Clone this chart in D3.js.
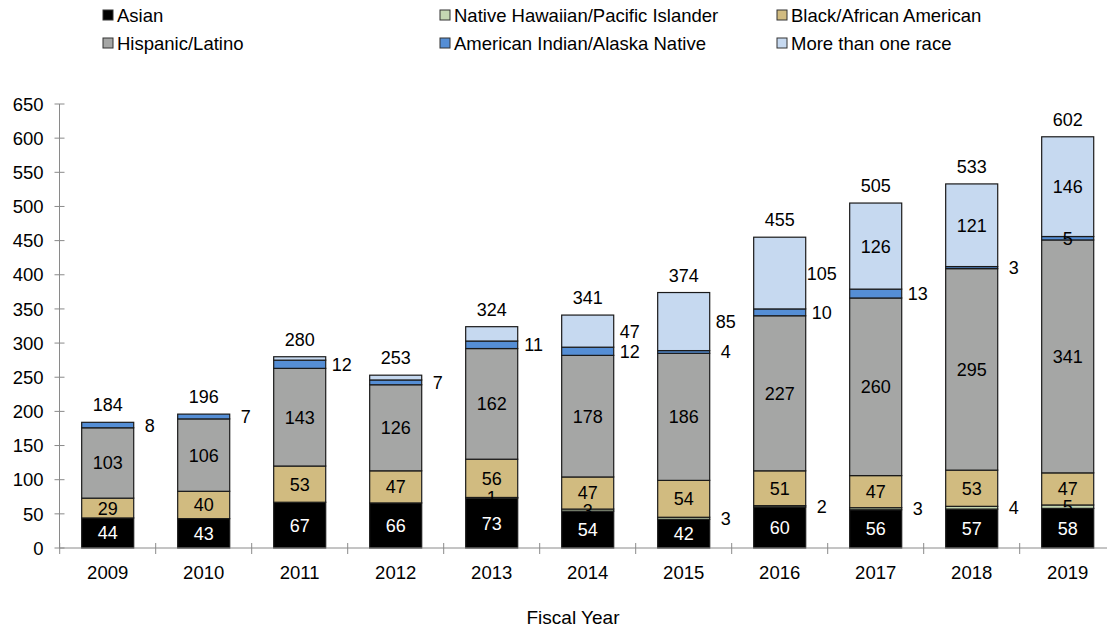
<!DOCTYPE html>
<html><head><meta charset="utf-8">
<script src="https://cdn.jsdelivr.net/npm/d3@7"></script>
<style>body{margin:0;background:#fff} svg{display:block;font-family:"Liberation Sans",Arial,sans-serif}</style>
</head><body><svg id="c" width="1107" height="631"></svg>
<script>
// ---- data ----
const years = ["2009","2010","2011","2012","2013","2014","2015","2016","2017","2018","2019"];
const seriesNames = ["Asian","Native Hawaiian/Pacific Islander","Black/African American","Hispanic/Latino","American Indian/Alaska Native","More than one race"];
const asian          = [44,43,67,66,73,54,42,60,56,57,58];
const nativeHawaiian = [0,0,0,0,1,3,3,2,3,4,5];
const black          = [29,40,53,47,56,47,54,51,47,53,47];
const hispanic       = [103,106,143,126,162,178,186,227,260,295,341];
const americanIndian = [8,7,12,7,11,12,4,10,13,3,5];
const multiRace      = [0,0,5,7,21,47,85,105,126,121,146];
const totals         = [184,196,280,253,324,341,374,455,505,533,602];
const yTicks = [0,50,100,150,200,250,300,350,400,450,500,550,600,650];

// ---- label placement (in = inside bar, out = right of bar, "" = none) ----
const A="in", O="out", N="";
const labelModes = [
  [A,A,A,A,A,A,A,A,A,A,A],
  [N,N,N,N,A,A,O,O,O,O,A],
  [A,A,A,A,A,A,A,A,A,A,A],
  [A,A,A,A,A,A,A,A,A,A,A],
  [O,O,O,O,O,O,O,O,O,O,A],
  [N,N,N,N,N,O,O,O,A,A,A]
];
const colors = ["#000000","#c4d7b2","#d1bb80","#a5a6a5","#558ed5","#c6d9f0"];
const labelColors = ["#ffffff","#000","#000","#000","#000","#000"];

const seriesVals = [asian,nativeHawaiian,black,hispanic,americanIndian,multiRace];
const rows = years.map((y,i)=>{const o={year:y}; seriesNames.forEach((s,k)=>o[s]=seriesVals[k][i]); return o;});
const stacked = d3.stack().keys(seriesNames)(rows);

const svg = d3.select("#c");
const x = d3.scaleBand().domain(years).range([59.7,1115.7]).paddingInner(0.458).paddingOuter(0.229);
const y = d3.scaleLinear().domain([0,650]).range([548,104]);

const axisColor = "#8a8a8a";
const AX = 59.5;
// y axis
const gy = svg.append("g");
gy.append("line").attr("x1",AX).attr("x2",AX).attr("y1",y(0)).attr("y2",y(650)).attr("stroke",axisColor).attr("stroke-width",1);
gy.selectAll("line.t").data(yTicks).join("line").attr("class","t")
  .attr("x1",AX-5).attr("x2",AX+5).attr("y1",d=>y(d)).attr("y2",d=>y(d)).attr("stroke",axisColor);
gy.selectAll("text").data(yTicks).join("text")
  .attr("x",43.5).attr("y",d=>y(d)).attr("dy","0.36em").attr("text-anchor","end")
  .attr("font-size",18.5).attr("fill","#000").text(d=>d);

// bars
const g = svg.append("g");
stacked.forEach((layer,k)=>{
  g.selectAll(null).data(layer.filter(d=>d[1]-d[0]>0)).join("rect")
    .attr("x",d=>x(d.data.year)).attr("width",x.bandwidth())
    .attr("y",d=>y(d[1])).attr("height",d=>y(d[0])-y(d[1]))
    .attr("fill",colors[k]).attr("stroke","#1a1a1a").attr("stroke-width",1.2);
});

// x axis
const gx = svg.append("g");
gx.append("line").attr("x1",AX).attr("x2",1115.7).attr("y1",548).attr("y2",548).attr("stroke",axisColor);
const bounds = d3.range(0,years.length+1).map(i=>x.range()[0]+i*x.step());
gx.selectAll("line.t").data(bounds).join("line").attr("class","t")
  .attr("x1",d=>d).attr("x2",d=>d).attr("y1",543).attr("y2",554).attr("stroke",axisColor);
gx.selectAll("text").data(years).join("text")
  .attr("x",d=>x(d)+x.bandwidth()/2).attr("y",579).attr("text-anchor","middle")
  .attr("font-size",18.5).text(d=>d);
svg.append("text").attr("x",573).attr("y",623.5).attr("text-anchor","middle").attr("font-size",19).text("Fiscal Year");

// segment labels
const gl = svg.append("g");
stacked.forEach((layer,k)=>{
  layer.forEach((d,i)=>{
    const mode = labelModes[k][i];
    const v = d[1]-d[0];
    if(!mode || v<=0) return;
    const cx = x(d.data.year)+x.bandwidth()/2 + (mode===O?42:0);
    gl.append("text").attr("x",cx).attr("y",y((d[0]+d[1])/2)).attr("dy","0.36em")
      .attr("text-anchor","middle").attr("font-size",18)
      .attr("fill",mode===O?"#000":labelColors[k]).text(v);
  });
});
// totals
gl.selectAll("text.tot").data(years).join("text").attr("class","tot")
  .attr("x",d=>x(d)+x.bandwidth()/2).attr("y",(d,i)=>y(totals[i])-11)
  .attr("text-anchor","middle").attr("font-size",18).text((d,i)=>totals[i]);

// legend
const legPos = [[103,15],[440,15],[777,15],[103,43],[440,43],[777,43]];
const leg = svg.append("g");
seriesNames.forEach((s,k)=>{
  const [lx,ly]=legPos[k];
  leg.append("rect").attr("x",lx).attr("y",ly-5).attr("width",10).attr("height",10)
    .attr("fill",colors[k]).attr("stroke","#333").attr("stroke-width",1);
  leg.append("text").attr("x",lx+14).attr("y",ly).attr("dy","0.36em").attr("font-size",18.5).text(s);
});
</script></body></html>
